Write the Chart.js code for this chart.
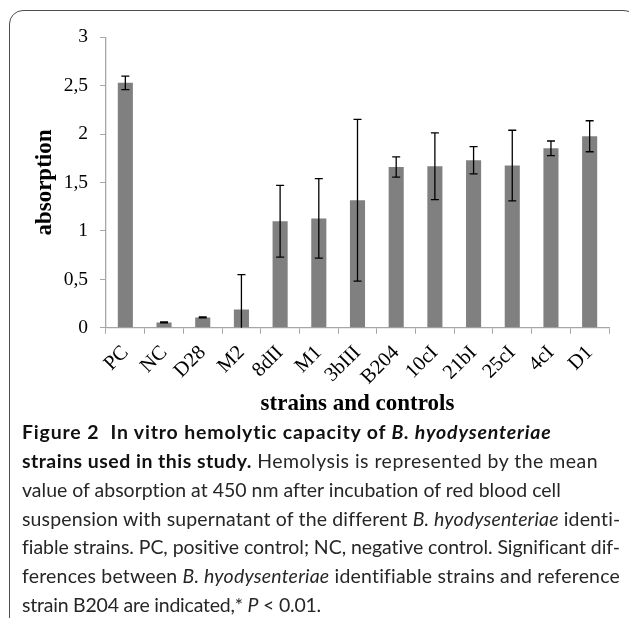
<!DOCTYPE html>
<html><head><meta charset="utf-8">
<script src="https://cdn.jsdelivr.net/npm/chart.js@4/dist/chart.umd.min.js"></script>
<style>
html,body{margin:0;padding:0;background:#fff;}
#wrap{position:relative;width:629px;height:618px;overflow:hidden;background:#fff;}
#frame{position:absolute;left:9px;top:10px;width:629px;height:700px;border:1.5px solid #4d4d4d;border-radius:14px;box-sizing:border-box;}
#cv{position:absolute;left:0;top:0;}
.cap{position:absolute;left:22px;white-space:nowrap;font-family:Lato,"Open Sans",sans-serif;font-size:19px;line-height:28.8px;color:#262626;}
.cap b{color:#111;font-weight:700}
</style></head>
<body>
<div id="wrap">
<div id="frame"></div>
<canvas id="cv" width="629" height="420"></canvas>
<div class="cap" id="l0"><b>Figure 2&nbsp; In vitro hemolytic capacity of <i>B. hyodysenteriae</i></b></div>
<div class="cap" id="l1"><b>strains used in this study.</b> Hemolysis is represented by the mean</div>
<div class="cap" id="l2">value of absorption at 450 nm after incubation of red blood cell</div>
<div class="cap" id="l3">suspension with supernatant of the different <i>B. hyodysenteriae</i> identi-</div>
<div class="cap" id="l4">fiable strains. PC, positive control; NC, negative control. Significant dif-</div>
<div class="cap" id="l5">ferences between <i>B. hyodysenteriae</i> identifiable strains and reference</div>
<div class="cap" id="l6">strain B204 are indicated,* <i>P</i> &lt; 0.01.</div>
</div>
<script>
const categories = ['PC','NC','D28','M2','8dII','M1','3bIII','B204','10cI','21bI','25cI','4cI','D1'];
const means  = [2.53, 0.055, 0.107, 0.19, 1.10, 1.13, 1.317, 1.66, 1.668, 1.73, 1.675, 1.854, 1.978];
const errors = [0.07, 0.005, 0.005, 0.36, 0.37, 0.41, 0.835, 0.105, 0.345, 0.14, 0.365, 0.075, 0.16];
const yTickLabels = ['0','0,5','1','1,5','2','2,5','3'];
const xTitle = 'strains and controls';
const yTitle = 'absorption';

const errorBarPlugin = {
  id: 'errbars',
  afterDatasetsDraw(chart) {
    const {ctx, chartArea: a, scales: {x, y}} = chart;
    ctx.save();
    ctx.beginPath();
    ctx.rect(a.left, a.top - 20, a.right - a.left, a.bottom - a.top + 20);
    ctx.clip();
    ctx.strokeStyle = '#000';
    ctx.lineWidth = 1.3;
    means.forEach((m, i) => {
      const px = x.getPixelForValue(i);
      const yt = y.getPixelForValue(m + errors[i]);
      const yb = y.getPixelForValue(m - errors[i]);
      ctx.beginPath();
      ctx.moveTo(px, yt); ctx.lineTo(px, yb);
      ctx.moveTo(px - 4, yt); ctx.lineTo(px + 4, yt);
      ctx.moveTo(px - 4, yb); ctx.lineTo(px + 4, yb);
      ctx.stroke();
    });
    ctx.restore();
  }
};

const serif = '"Liberation Serif", "Times New Roman", serif';
new Chart(document.getElementById('cv'), {
  type: 'bar',
  data: {
    labels: categories,
    datasets: [{data: means, backgroundColor: '#808080', barPercentage: 0.39, categoryPercentage: 1}]
  },
  options: {
    responsive: false, animation: false, devicePixelRatio: 1,
    layout: {padding: {top: 37.3, right: 20, left: 0, bottom: 0}},
    plugins: {legend: {display: false}, tooltip: {enabled: false}},
    scales: {
      x: {
        grid: {display: true, drawOnChartArea: false, drawTicks: true, tickLength: 6, color: '#a6a6a6', offset: true},
        border: {color: '#a6a6a6', width: 1.3},
        ticks: {maxRotation: 45, minRotation: 45, autoSkip: false, padding: 7, color: '#000', font: {family: serif, size: 20.5}},
        title: {display: true, text: xTitle, color: '#000', font: {family: serif, size: 23, weight: 'bold', lineHeight: 1}, padding: {top: 0, bottom: 4.5}},
        afterFit(s) { s.height = 92.2; }
      },
      y: {
        min: 0, max: 3,
        ticks: {stepSize: 0.5, padding: 12, color: '#000', font: {family: serif, size: 19.5},
                callback: (v, i) => yTickLabels[i]},
        grid: {drawOnChartArea: false, drawTicks: true, tickLength: 6, color: '#a6a6a6'},
        border: {color: '#a6a6a6', width: 1.3},
        title: {display: true, text: yTitle, color: '#000', font: {family: serif, size: 23, weight: 'bold', lineHeight: 1}, padding: {top: 33.5, bottom: 0}},
        afterFit(s) { s.width = 106; }
      }
    }
  },
  plugins: [errorBarPlugin]
});

// caption fitting
const targets = [530, 576, 539, 598, 598, 598, 299];
const lines = targets.map((t, i) => document.getElementById('l' + i));
const w3 = lines[2].getBoundingClientRect().width;
const F = 19 * targets[2] / w3;
lines.forEach((el, i) => {
  el.style.fontSize = F + 'px';
  const w = el.getBoundingClientRect().width;
  const n = el.textContent.length;
  el.style.letterSpacing = ((targets[i] - w) / n) + 'px';
  const L = 28.8;
  const baseline = 440.2 + L * i;
  el.style.top = (baseline - ((L - 1.2 * F) / 2 + 0.987 * F)) + 'px';
});
</script>
</body></html>
